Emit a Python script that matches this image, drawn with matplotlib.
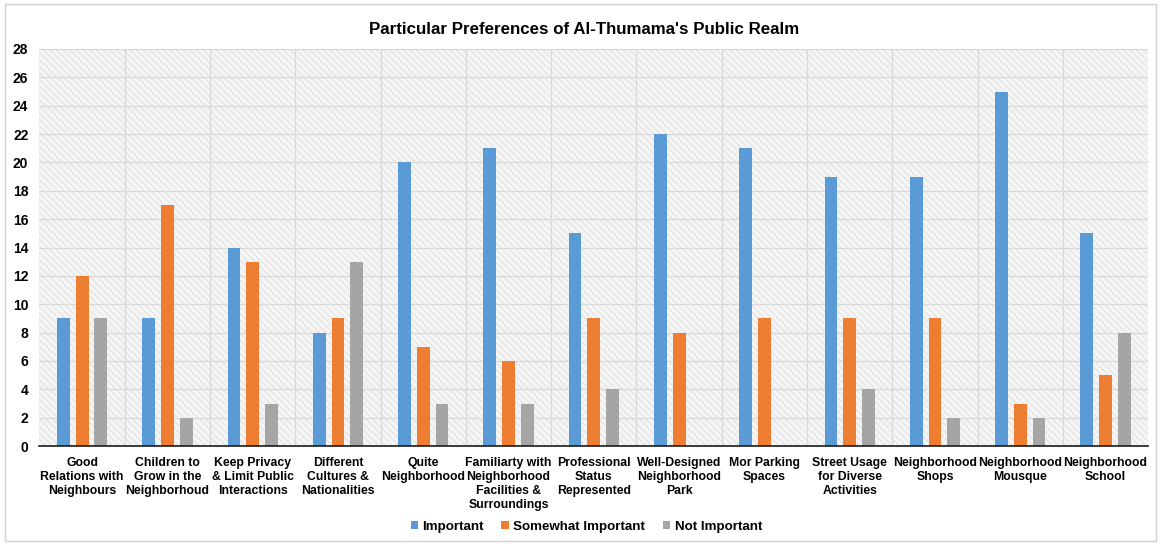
import matplotlib.pyplot as plt
import numpy as np
from matplotlib.patches import Rectangle

plt.rcParams['font.family'] = ['Liberation Sans', 'DejaVu Sans']
plt.rcParams['hatch.color'] = '#dcdcdc'
plt.rcParams['hatch.linewidth'] = 0.6

categories = [
    "Good\nRelations with\nNeighbours",
    "Children to\nGrow in the\nNeighborhoud",
    "Keep Privacy\n& Limit Public\nInteractions",
    "Different\nCultures &\nNationalities",
    "Quite\nNeighborhood",
    "Familiarty with\nNeighborhood\nFacilities &\nSurroundings",
    "Professional\nStatus\nRepresented",
    "Well-Designed\nNeighborhood\nPark",
    "Mor Parking\nSpaces",
    "Street Usage\nfor Diverse\nActivities",
    "Neighborhood\nShops",
    "Neighborhood\nMousque",
    "Neighborhood\nSchool",
]
important = [9, 9, 14, 8, 20, 21, 15, 22, 21, 19, 19, 25, 15]
somewhat_important = [12, 17, 13, 9, 7, 6, 9, 8, 9, 9, 9, 3, 5]
not_important = [9, 2, 3, 13, 3, 3, 4, 0, 0, 4, 2, 2, 8]
series_names = ["Important", "Somewhat Important", "Not Important"]
colors = ["#5b9bd5", "#ed7d31", "#a5a5a5"]

fig = plt.figure(figsize=(11.61, 5.44), dpi=100)
ax = fig.add_axes([0.034, 0.18, 0.955, 0.73])

x = np.arange(len(categories))
offsets = [-0.22, 0.0, 0.22]
width = 0.15

ax.set_xlim(-0.5, len(categories) - 0.5)
ax.set_ylim(0, 28)

# hatched plot background
bg = Rectangle((0, 0), 1, 1, transform=ax.transAxes, facecolor='#f5f5f5',
               edgecolor='#dcdcdc', hatch='\\\\\\\\\\', linewidth=0, zorder=0)
ax.add_patch(bg)
ax.set_facecolor('none')

for vals, name, col, off in zip([important, somewhat_important, not_important],
                                series_names, colors, offsets):
    ax.bar(x + off, vals, width=width, color=col, label=name, zorder=3)

ax.set_yticks(np.arange(0, 29, 2))
ax.set_xticks(x)
ax.set_xticklabels(categories, fontsize=8.8, fontweight='bold', linespacing=1.2)
for lbl in ax.get_yticklabels():
    lbl.set_fontsize(10)
    lbl.set_fontweight('bold')
ax.tick_params(axis='both', length=0)
ax.tick_params(axis='y', pad=8)
ax.tick_params(axis='x', pad=8)

ax.yaxis.grid(True, color='#d9d9d9', linewidth=0.9, zorder=1)
for b in np.arange(0.5, len(categories) - 0.5, 1):
    ax.axvline(b, color='#d9d9d9', linewidth=0.9, zorder=1)
ax.set_axisbelow(True)

for s in ['top', 'right', 'left']:
    ax.spines[s].set_visible(False)
ax.spines['bottom'].set_color('#1a1a1a')
ax.spines['bottom'].set_linewidth(1.2)
ax.spines['bottom'].set_zorder(4)

ax.set_title("Particular Preferences of Al-Thumama's Public Realm",
             fontsize=12.2, fontweight='bold', pad=11, x=0.4915)

leg = fig.legend(loc='lower center', bbox_to_anchor=(0.505, -0.002), ncol=3,
                 frameon=False, prop={'size': 9.6, 'weight': 'bold'},
                 handlelength=0.55, handleheight=0.55, handletextpad=0.35,
                 columnspacing=1.3)

# outer chart border
fig.patches.append(Rectangle((0.004, 0.006), 0.992, 0.986, transform=fig.transFigure,
                             fill=False, edgecolor='#d0d0d0', linewidth=1.0))

fig.savefig('out.png', dpi=100, facecolor='white')
